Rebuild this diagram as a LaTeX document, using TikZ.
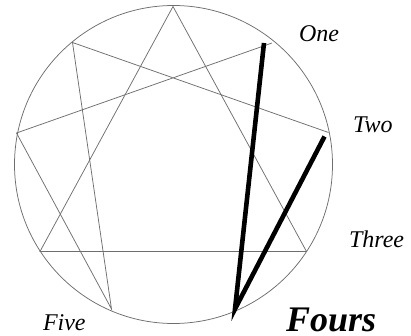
\documentclass[tikz,border=0pt]{standalone}
\usepackage{fontspec}
\setmainfont{Liberation Serif}
\usepackage{xcolor}
\usepackage{tikz}
\usetikzlibrary{arrows.meta,positioning,calc}
\definecolor{lineGray}{HTML}{6E6E6E}

\begin{document}
\begin{tikzpicture}[
          x=1pt,y=-1pt,
          every node/.style={inner sep=0pt,outer sep=0pt},
          thin line/.style={draw=lineGray,line width=0.75pt},
          wing/.style={draw=black,line width=4.6pt},
          name label/.style={anchor=base west,font=\fontsize{24}{24}\selectfont\itshape},
          type label/.style={anchor=base west,font=\fontsize{36}{36}\selectfont\bfseries\itshape},
      ]
        \useasboundingbox (0,0) rectangle (411,336);
        % the circle
        \coordinate (centre) at (173.5,164.5);
        \draw[thin line] (centre) circle[radius=159];
        % points on the circle
        \coordinate (p9) at (173,6.5);
        \coordinate (p1) at (272,43);
        \coordinate (p2) at (328.5,132.5);
        \coordinate (p3) at (306.5,251.5);
        \coordinate (p4) at (235,309);
        \coordinate (p5) at (111.5,309);
        \coordinate (p6) at (40,251.5);
        \coordinate (p7) at (16.5,133);
        \coordinate (p8) at (72.5,42.5);
        % ends of the heavy lines
        \coordinate (w1) at (264,43);
        \coordinate (w2) at (324.5,136.5);
        % triangle
        \draw[thin line] (p9) -- (p3) -- (p6) -- cycle;
        % hexad
        \draw[thin line] (p1) -- (p7) -- (p5) -- (p8) -- (p2);
        % wings of the four
        \draw[wing] (w1) -- (p4) -- (w2);
        % labels
        \node[name label] (one) at (299,42) {One};
        \node[name label] (two) at (353,133) {Two};
        \node[name label] (three) at (349,247) {Three};
        \node[type label] (fours) at (286,331) {Fours};
        \node[name label] (five) at (43,330) {Five};
      \end{tikzpicture}
\end{document}
